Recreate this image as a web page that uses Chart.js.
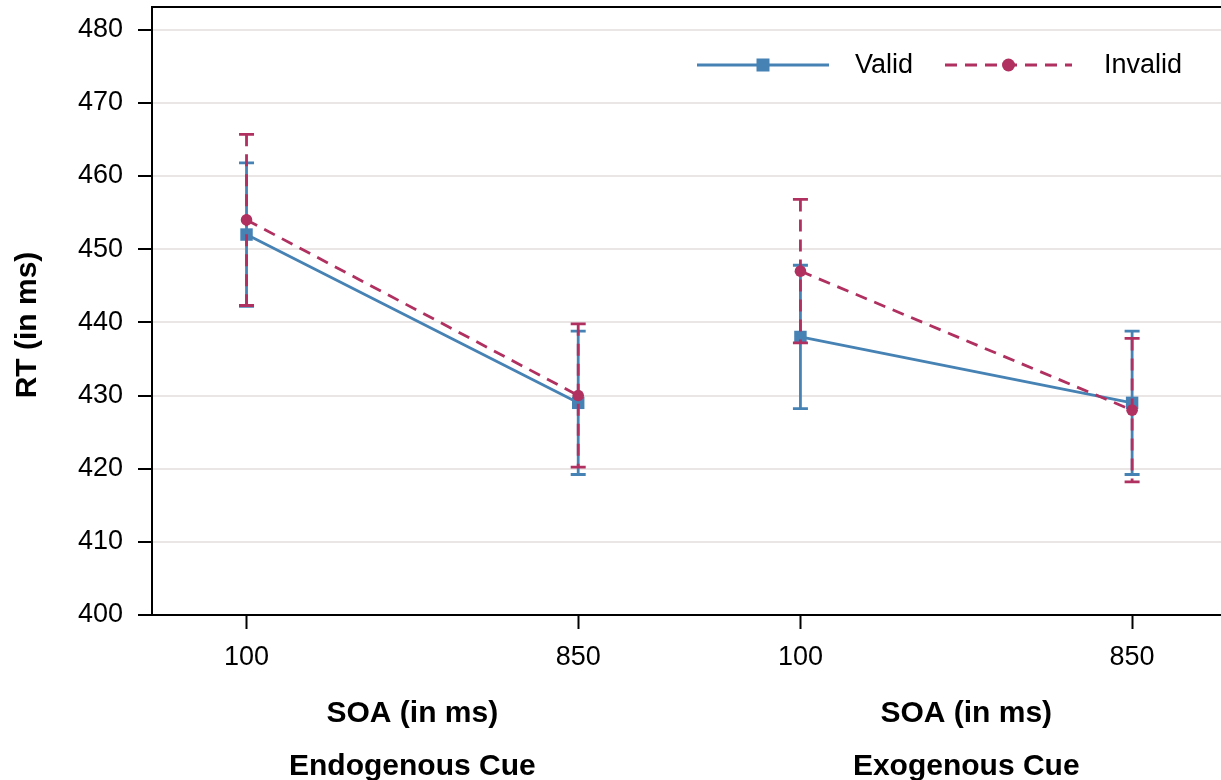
<!DOCTYPE html>
<html lang="en">
<head>
<meta charset="utf-8">
<title>RT by SOA and cue type</title>
<script src="https://cdn.jsdelivr.net/npm/chart.js@4.4.1/dist/chart.umd.min.js"></script>
<style>
    html, body { margin: 0; padding: 0; background: #fff; }
    #chartBox { width: 1221px; height: 780px; }
</style>
</head>
<body>
<div id="chartBox"><canvas id="rtChart"></canvas></div>
<script>
// Levels of the x axis and the two cue panels.
const SOA_LEVELS = ['100', '850'];
const CUE_TYPES = ['Endogenous Cue', 'Exogenous Cue'];
// Mean RT (ms) per cell: endogenous 100, 850, exogenous 100, 850.
const VALID_RT = [452, 429, 438, 429];
const INVALID_RT = [454, 430, 447, 428];
// Half width of each error bar (ms).
const VALID_ERR = [9.8, 9.8, 9.8, 9.8];
const INVALID_ERR = [11.7, 9.8, 9.8, 9.8];
// Ticks of the y axis.
const Y_TICKS = [400, 410, 420, 430, 440, 450, 460, 470, 480];

// Colours and fonts.
const BLUE = '#4682b4';
const MAROON = '#b03060';
const DASH = [12, 8];
const FONT = '"Liberation Sans", Arial, Helvetica, sans-serif';

// Distance between the two cue panels on the x scale (one SOA step = 1).
const GROUP_SPAN = 1.67;
const xOf = (group, level) => group * GROUP_SPAN + level;

// Builds the points of a series, with a null point so the panels are not joined.
const buildPoints = (values) => {
    const points = [];
    CUE_TYPES.forEach((cue, g) => {
        SOA_LEVELS.forEach((soa, l) => {
            points.push({ x: xOf(g, l), y: values[g * SOA_LEVELS.length + l] });
        });
        if (g < CUE_TYPES.length - 1) {
            points.push({ x: xOf(g, 1) + 0.3, y: null });
        }
    });
    return points;
};

// Error bars are drawn right after their own dataset.
const errorBars = {
    id: 'errorBars',
    afterDatasetDraw(chart, args) {
        const ds = chart.data.datasets[args.index];
        const { ctx, scales: { x, y } } = chart;
        ctx.save();
        ctx.strokeStyle = ds.borderColor;
        ctx.lineWidth = 2.8;
        ds.means.forEach((v, i) => {
            const g = Math.floor(i / SOA_LEVELS.length);
            const l = i % SOA_LEVELS.length;
            const px = x.getPixelForValue(xOf(g, l));
            const top = y.getPixelForValue(v + ds.errors[i]);
            const bottom = y.getPixelForValue(v - ds.errors[i]);
            ctx.setLineDash(ds.borderDash || []);
            ctx.beginPath();
            ctx.moveTo(px, top);
            ctx.lineTo(px, bottom);
            ctx.stroke();
            ctx.setLineDash([]);
            ctx.beginPath();
            ctx.moveTo(px - 7.5, top);
            ctx.lineTo(px + 7.5, top);
            ctx.moveTo(px - 7.5, bottom);
            ctx.lineTo(px + 7.5, bottom);
            ctx.stroke();
        });
        ctx.restore();
    }
};

// Panel frame, axis titles and the legend.
const extras = {
    id: 'extras',
    afterDraw(chart) {
        const { ctx, chartArea, scales: { x } } = chart;
        ctx.save();
        // Top edge of the panel.
        ctx.strokeStyle = '#000';
        ctx.lineWidth = 2;
        ctx.beginPath();
        ctx.moveTo(chartArea.left, chartArea.top);
        ctx.lineTo(chartArea.right, chartArea.top);
        ctx.stroke();

        // Y axis title, centred on the figure height.
        ctx.fillStyle = '#000';
        ctx.font = `bold 30px ${FONT}`;
        ctx.textAlign = 'center';
        ctx.textBaseline = 'middle';
        ctx.save();
        ctx.translate(28, 325);
        ctx.rotate(-Math.PI / 2);
        ctx.fillText('RT (in ms)', 0, 0);
        ctx.restore();

        // SOA title and cue name centred under each panel.
        ctx.textBaseline = 'alphabetic';
        CUE_TYPES.forEach((cue, g) => {
            const cx = x.getPixelForValue(xOf(g, 0.5));
            ctx.fillText('SOA (in ms)', cx, 722);
            ctx.fillText(cue, cx, 775);
        });

        // Legend with line and marker samples.
        const items = [
            { ds: chart.data.datasets[0], x0: 697, x1: 829, text: 855 },
            { ds: chart.data.datasets[1], x0: 945, x1: 1072, text: 1104 }
        ];
        const ly = 65;
        items.forEach(it => {
            ctx.strokeStyle = it.ds.borderColor;
            ctx.fillStyle = it.ds.borderColor;
            ctx.lineWidth = 2.8;
            ctx.setLineDash(it.ds.borderDash || []);
            ctx.beginPath();
            ctx.moveTo(it.x0, ly);
            ctx.lineTo(it.x1, ly);
            ctx.stroke();
            ctx.setLineDash([]);
            const mx = (it.x0 + it.x1) / 2;
            if (it.ds.pointStyle === 'rect') {
                ctx.fillRect(mx - 6.5, ly - 6.5, 13, 13);
            } else {
                ctx.beginPath();
                ctx.arc(mx, ly, 6.5, 0, Math.PI * 2);
                ctx.fill();
            }
            ctx.fillStyle = '#000';
            ctx.font = `27px ${FONT}`;
            ctx.textAlign = 'left';
            ctx.textBaseline = 'middle';
            ctx.fillText(it.ds.label, it.text, ly + 1);
        });
        ctx.restore();
    }
};

document.addEventListener('DOMContentLoaded', () => {
    const ctx = document.getElementById('rtChart').getContext('2d');
    new Chart(ctx, {
        type: 'line',
        data: {
            datasets: [{
                label: 'Valid',
                data: buildPoints(VALID_RT),
                means: VALID_RT,
                errors: VALID_ERR,
                borderColor: BLUE,
                backgroundColor: BLUE,
                borderWidth: 2.8,
                pointStyle: 'rect',
                pointRadius: 8.8,
                pointBorderWidth: 0,
                order: 2
            }, {
                label: 'Invalid',
                data: buildPoints(INVALID_RT),
                means: INVALID_RT,
                errors: INVALID_ERR,
                borderColor: MAROON,
                backgroundColor: MAROON,
                borderWidth: 2.8,
                borderDash: DASH,
                pointStyle: 'circle',
                pointRadius: 5.8,
                pointBorderWidth: 0,
                order: 1
            }]
        },
        options: {
            responsive: true,
            maintainAspectRatio: false,
            animation: false,
            spanGaps: false,
            layout: { autoPadding: false, padding: { top: 7, right: 0, left: 0, bottom: 0 } },
            plugins: {
                legend: { display: false },
                tooltip: { enabled: false }
            },
            scales: {
                x: {
                    type: 'linear',
                    min: -0.285,
                    max: xOf(1, 1) + 0.268,
                    afterBuildTicks: (scale) => {
                        scale.ticks = [];
                        CUE_TYPES.forEach((cue, g) => {
                            SOA_LEVELS.forEach((soa, l) => scale.ticks.push({ value: xOf(g, l) }));
                        });
                    },
                    afterFit: (scale) => {
                        scale.height = 165;
                        scale.paddingLeft = 0;
                        scale.paddingRight = 0;
                    },
                    ticks: {
                        autoSkip: false,
                        maxRotation: 0,
                        padding: 12,
                        color: '#000',
                        font: { family: FONT, size: 27 },
                        callback: (value, index) => SOA_LEVELS[index % SOA_LEVELS.length]
                    },
                    grid: {
                        drawOnChartArea: false,
                        tickLength: 14,
                        tickColor: '#000',
                        tickWidth: 2
                    },
                    border: { color: '#000', width: 2 }
                },
                y: {
                    min: 400,
                    max: 483.1,
                    afterBuildTicks: (scale) => {
                        scale.ticks = Y_TICKS.map(v => ({ value: v }));
                    },
                    afterFit: (scale) => {
                        scale.width = 152;
                        scale.paddingTop = 0;
                        scale.paddingBottom = 0;
                    },
                    ticks: {
                        padding: 15,
                        color: '#000',
                        font: { family: FONT, size: 27 }
                    },
                    grid: {
                        color: '#ebe6e6',
                        lineWidth: 2,
                        tickLength: 14,
                        tickColor: '#000',
                        tickWidth: 2
                    },
                    border: { color: '#000', width: 2 }
                }
            }
        },
        plugins: [errorBars, extras]
    });
});
</script>
</body>
</html>
